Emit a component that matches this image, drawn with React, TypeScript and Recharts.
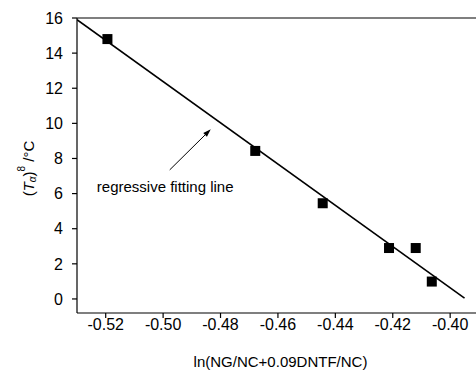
import React from "react";
import {
  ScatterChart,
  Scatter,
  XAxis,
  YAxis,
  ReferenceLine,
  ReferenceDot,
  Label,
} from "recharts";

const xValues = [-0.5194, -0.4679, -0.4444, -0.4213, -0.412, -0.4064];
const yValues = [14.8, 8.43, 5.45, 2.9, 2.9, 0.99];
const fitX = [-0.53, -0.395];
const fitY = [15.9, 0.05];
const xTicks = [-0.52, -0.5, -0.48, -0.46, -0.44, -0.42, -0.4];
const yTicks = [0, 2, 4, 6, 8, 10, 12, 14, 16];
const arrowX = [-0.4977, -0.4834];
const arrowY = [7.35, 9.66];
const noteX = -0.5231;
const noteY = 6.43;
const noteText = "regressive fitting line";

const points = xValues.map((x, i) => ({ x, y: yValues[i] }));
const fitLine = fitX.map((x, i) => ({ x, y: fitY[i] }));

const FONT = '"Liberation Sans", Arial, Helvetica, sans-serif';

const SquareMarker = (props: any) => {
  const { cx, cy } = props;
  if (cx == null || cy == null) return <g />;
  const s = 10;
  return <rect x={cx - s / 2} y={cy - s / 2} width={s} height={s} fill="#000" />;
};

const NoShape = () => <g />;

const ArrowShape = (props: any) => {
  const { x1, y1, x2, y2 } = props;
  if ([x1, y1, x2, y2].some((v) => v == null || isNaN(v))) return <g />;
  const dx = x2 - x1;
  const dy = y2 - y1;
  const len = Math.sqrt(dx * dx + dy * dy) || 1;
  const ux = dx / len;
  const uy = dy / len;
  const hl = 8;
  const hw = 2.6;
  const bx = x2 - ux * hl;
  const by = y2 - uy * hl;
  const px = -uy;
  const py = ux;
  return (
    <g>
      <line x1={x1} y1={y1} x2={bx} y2={by} stroke="#000" strokeWidth={1} />
      <polygon
        points={`${x2},${y2} ${bx + px * hw},${by + py * hw} ${bx - px * hw},${by - py * hw}`}
        fill="#000"
      />
    </g>
  );
};

const NoteShape = (props: any) => {
  const { cx, cy } = props;
  if (cx == null || cy == null) return <g />;
  return (
    <text
      x={cx}
      y={cy}
      fontFamily={FONT}
      fontSize={15}
      fill="#000"
      textAnchor="start"
      dominantBaseline="central"
    >
      {noteText}
    </text>
  );
};

const YLabel = (props: any) => {
  const vb = props.viewBox || {};
  const cx = (vb.x ?? 0) + 28;
  const cy = (vb.y ?? 0) + (vb.height ?? 0) / 2 + 3;
  return (
    <text
      x={cx}
      y={cy}
      transform={`rotate(-90, ${cx}, ${cy})`}
      textAnchor="middle"
      dominantBaseline="central"
      fontFamily={FONT}
      fontSize={15}
      fill="#000"
    >
      (<tspan fontStyle="italic">T</tspan><tspan fontStyle="italic" fontSize={10} dy={4}>α</tspan><tspan dy={-4}>)</tspan><tspan fontSize={10} dy={-7}>8</tspan><tspan dy={7}> /°C</tspan>
    </text>
  );
};

export default function App() {
  return (
    <div style={{ position: "absolute", left: 0, top: 0 }}>
      <ScatterChart
        width={476}
        height={370}
        margin={{ top: 18, right: 0, bottom: 0, left: 0 }}
        style={{ fontFamily: FONT }}
      >
        <XAxis
          type="number"
          dataKey="x"
          domain={[-0.53, -0.391]}
          allowDataOverflow
          ticks={xTicks}
          tickFormatter={(v: number) => v.toFixed(2)}
          height={57}
          tickSize={5}
          tickMargin={1}
          stroke="#000"
          strokeWidth={1.2}
          tick={{ fill: "#000", fontSize: 16, fontFamily: FONT }}
        >
          <Label
            value="ln(NG/NC+0.09DNTF/NC)"
            position="insideBottom"
            offset={3}
            dx={4}
            style={{ fill: "#000", fontSize: 15, fontFamily: FONT }}
          />
        </XAxis>
        <YAxis
          type="number"
          dataKey="y"
          domain={[-0.8, 16]}
          allowDataOverflow
          ticks={yTicks}
          width={77}
          tickSize={5}
          tickMargin={9}
          stroke="#000"
          strokeWidth={1.2}
          tick={{ fill: "#000", fontSize: 16, fontFamily: FONT }}
          label={<YLabel />}
        />
        <ReferenceLine y={16} stroke="#000" strokeWidth={1.2} />
        <Scatter
          data={fitLine}
          line={{ stroke: "#000", strokeWidth: 1.6 }}
          shape={NoShape}
          isAnimationActive={false}
        />
        <Scatter data={points} shape={SquareMarker} isAnimationActive={false} />
        <ReferenceLine
          segment={[
            { x: arrowX[0], y: arrowY[0] },
            { x: arrowX[1], y: arrowY[1] },
          ]}
          stroke="#000"
          shape={ArrowShape}
        />
        <ReferenceDot x={noteX} y={noteY} r={0} shape={NoteShape} />
      </ScatterChart>
    </div>
  );
}
